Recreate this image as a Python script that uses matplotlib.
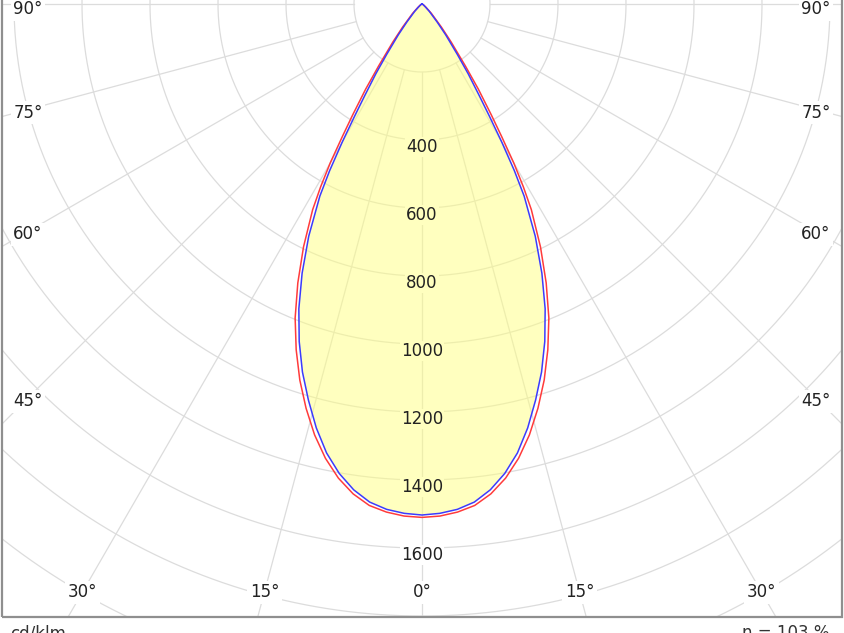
import matplotlib
matplotlib.use('Agg')
import matplotlib.pyplot as plt
import numpy as np
from matplotlib.patches import Rectangle

# Luminous intensity distribution (cd/klm), symmetric about 0 deg
gamma = [0, 2, 4, 6, 8, 10, 12, 14, 16, 18, 20, 22, 24, 26, 28, 29, 30, 31,
         32, 33.5, 35, 37.5, 40, 45, 50, 60, 75, 90]
blue_cd = [1503, 1499, 1490, 1473, 1443, 1402, 1350, 1285, 1212, 1138, 1056,
           967, 867, 760, 640, 560, 470, 385, 318, 246, 182, 115, 70, 30, 12,
           4, 1, 0]
red_cd = [1510, 1507, 1498, 1483, 1455, 1416, 1366, 1306, 1237, 1163, 1082,
          996, 898, 795, 685, 615, 540, 455, 385, 300, 222, 140, 89, 39, 16,
          5, 1, 0]

ring_values = [200, 400, 600, 800, 1000, 1200, 1400, 1600, 1800, 2000, 2200]
ring_labels = [400, 600, 800, 1000, 1200, 1400, 1600]
angle_ticks = [-90, -75, -60, -45, -30, -15, 0, 15, 30, 45, 60, 75, 90]
unit_text = 'cd/klm'
eta_text = 'η = 103 %'

# pixel layout helpers (origin of the diagram at top centre)
W, H = 844, 633
X0, Y0 = 422, 4
S = 0.34  # pixels per cd/klm


def px(x, y):
    return (x - X0) / S, -(y - Y0) / S


def polar_xy(g_deg, r):
    g = np.radians(g_deg)
    return r * np.sin(g), -r * np.cos(g)


fig = plt.figure(figsize=(W / 100, H / 100), dpi=100)
ax = fig.add_axes([0, 0, 1, 1])
x_lo, y_hi = px(0, 0)
x_hi, y_lo = px(W, H)
ax.set_xlim(x_lo, x_hi)
ax.set_ylim(y_lo, y_hi)
ax.axis('off')

# frame
fx0, fy1 = px(2, -20)
fx1, fy0 = px(842, 617)
frame = Rectangle((fx0, fy0), fx1 - fx0, fy1 - fy0, fill=False,
                  edgecolor='#8f8f8f', lw=1.6, zorder=6)
ax.add_patch(frame)
clip = Rectangle((fx0, fy0), fx1 - fx0, fy1 - fy0, transform=ax.transData)

grid_col = '#dcdcdc'
t = np.linspace(0, 2 * np.pi, 721)
for r in ring_values:
    ln, = ax.plot(r * np.sin(t), r * np.cos(t), color=grid_col, lw=0.9, zorder=1)
    ln.set_clip_path(clip)
for g in range(-90, 91, 15):
    xa, ya = polar_xy(g, 200)
    xb, yb = polar_xy(g, 4000)
    ln, = ax.plot([xa, xb], [ya, yb], color=grid_col, lw=0.9, zorder=1)
    ln.set_clip_path(clip)

# curves, mirrored for the left half
g_arr = np.array(gamma, dtype=float)
g_full = np.concatenate([-g_arr[::-1], g_arr[1:]])
blue_full = np.concatenate([np.array(blue_cd)[::-1], np.array(blue_cd)[1:]])
red_full = np.concatenate([np.array(red_cd)[::-1], np.array(red_cd)[1:]])
bx, by = polar_xy(g_full, blue_full)
rx, ry = polar_xy(g_full, red_full)

ax.fill(bx, by, facecolor='#ffff80', alpha=0.5, edgecolor='none', zorder=2)
ax.plot(rx, ry, color='#ff3b3b', lw=1.1, zorder=3, solid_joinstyle='round')
ax.plot(bx, by, color='#3b3bff', lw=1.1, zorder=3.5, solid_joinstyle='round')

fill_col = '#ffffbf'
fs = 12
for v in ring_labels:
    ly = -(v * S + 7) / S
    inside = v < blue_cd[0]
    ax.text(0, ly, str(v), ha='center', va='center', fontsize=fs,
            color='#222222', zorder=5,
            bbox=dict(boxstyle='square,pad=0.05',
                      facecolor=fill_col if inside else 'white',
                      edgecolor='none'))

# angle labels on an inner rectangle
ix0, iy0 = px(28, 0)
ix1, iy1 = px(816, 592)
for g in angle_ticks:
    gr = np.radians(abs(g))
    dx, dy = np.sin(gr), np.cos(gr)
    t_side = abs(ix0) / dx if dx > 1e-9 else np.inf
    t_bot = abs(iy1) / dy if dy > 1e-9 else np.inf
    tt = min(t_side, t_bot)
    lx = np.sign(g) * tt * dx
    ly = -tt * dy - 3 / S
    if abs(g) == 90:
        ly = -(9 - Y0) / S
    if t_bot < t_side:
        ly = -(592 - Y0) / S
    ax.text(lx, ly, f'{abs(g)}°', ha='center', va='center', fontsize=fs,
            color='#222222', zorder=5,
            bbox=dict(boxstyle='square,pad=0.15', facecolor='white',
                      edgecolor='none'))

tx, ty = px(10, 624)
ax.text(tx, ty, unit_text, ha='left', va='top', fontsize=fs, color='#333333')
tx, ty = px(830, 624)
ax.text(tx, ty, eta_text, ha='right', va='top', fontsize=fs, color='#333333')

fig.savefig('out.png', dpi=100, facecolor='white')
